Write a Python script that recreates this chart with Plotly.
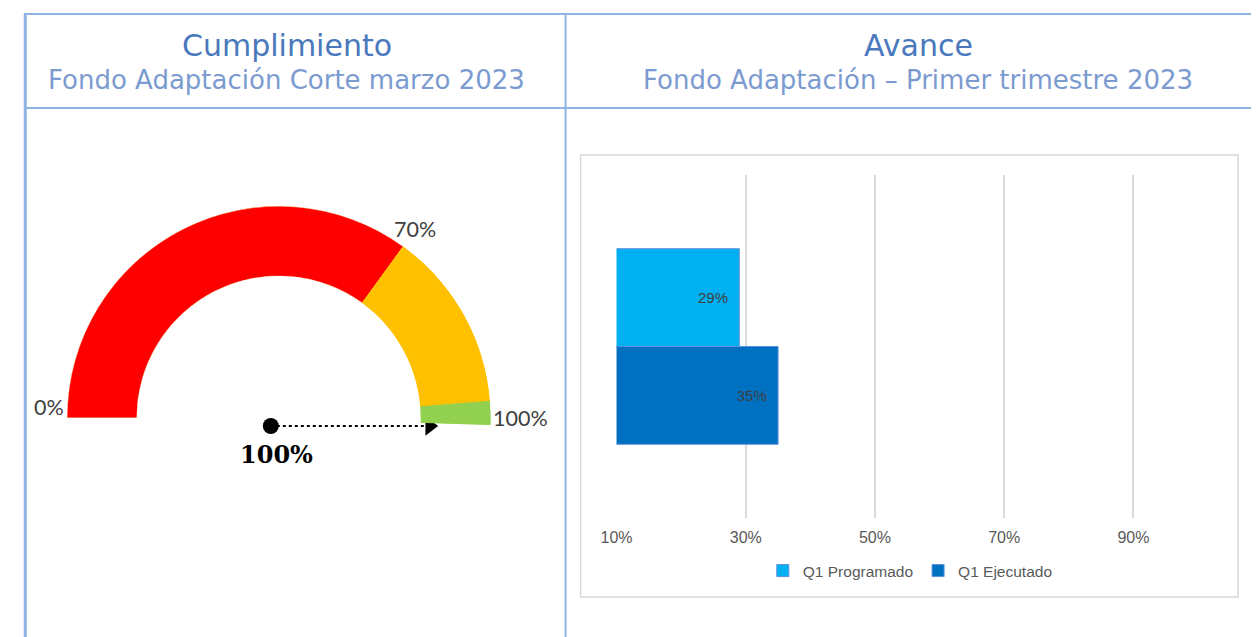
import math
import plotly.graph_objects as go

# measured placement of the figure inside the photographed page
X0, XS = 23.0, 0.988   # photographed x = X0 + XS * figure x
Y0 = 8.0                # photographed y = Y0 + figure y
PAGE_W, PAGE_H = 1259, 637
W = int(round((PAGE_W - X0) / XS))
H = int(PAGE_H - Y0)

# ---------------- data ----------------
# Gauge (Cumplimiento)
band_names = ["Bajo", "Medio", "Alto"]
band_start = [0, 70, 97.5]
band_end = [70, 97.5, 101]
band_colors = ["#FF0000", "#FFC000", "#92D050"]
band_edge = ["#F4B183", "#FFC000", "#92D050"]
gauge_tick_values = [0, 70, 100]
gauge_tick_labels = ["0%", "70%", "100%"]
gauge_value = 100  # needle value, percent

# Bars (Avance)
bar_category = ["Q1"]
series_names = ["Q1 Programado", "Q1 Ejecutado"]
series_values = [0.29, 0.35]
series_colors = ["#00B0F0", "#0070C0"]
x_tickvals = [0.1, 0.3, 0.5, 0.7, 0.9]
x_ticktext = ["10%", "30%", "50%", "70%", "90%"]

left_title = "Cumplimiento"
left_sub = "Fondo Adaptación Corte marzo 2023"
right_title = "Avance"
right_sub = "Fondo Adaptación – Primer trimestre 2023"

# ---------------- helpers ----------------
def fx(px):
    return min(max(((px - X0) / XS) / W, 0.0), 1.0)

def fy(py):
    return 1 - (py - Y0) / H

DEG_PER_PCT = 1.8
cx, cy, R = 278, 418, 212
hole = 0.67
sector = [-3, 180]
below = R * math.sin(math.radians(-sector[0]))

fig = go.Figure()

# gauge bands
fig.add_trace(go.Barpolar(
    r=[1] * len(band_names),
    base=[0] * len(band_names),
    theta=[(s + e) / 2 * DEG_PER_PCT for s, e in zip(band_start, band_end)],
    width=[(e - s) * DEG_PER_PCT for s, e in zip(band_start, band_end)],
    marker=dict(color=band_colors, line=dict(color=band_edge, width=1)),
    name="gauge", showlegend=False, hoverinfo="skip",
    subplot="polar",
))

fig.update_layout(polar=dict(
    domain=dict(x=[fx(cx - R), fx(cx + R)], y=[fy(cy + below), fy(cy - R)]),
    sector=sector,
    hole=hole,
    bgcolor="rgba(0,0,0,0)",
    radialaxis=dict(visible=False, range=[0, 1]),
    angularaxis=dict(visible=False, rotation=180, direction="clockwise"),
))

# needle on an overlay cartesian axis (units of gauge radius)
ang = math.radians(180 - gauge_value * DEG_PER_PCT)
sx, sy = -8 / R, -8 / R
L = 0.75
ex, ey = sx + L * math.cos(ang), sy + L * math.sin(ang)
fig.add_trace(go.Scatter(
    x=[sx, ex], y=[sy, ey], mode="lines",
    line=dict(color="black", width=2, dash="dot"),
    xaxis="x2", yaxis="y2", showlegend=False, hoverinfo="skip",
))
fig.add_trace(go.Scatter(
    x=[sx], y=[sy], mode="markers",
    marker=dict(color="black", size=16, symbol="circle"),
    xaxis="x2", yaxis="y2", showlegend=False, hoverinfo="skip",
))
fig.add_trace(go.Scatter(
    x=[ex], y=[ey], mode="markers",
    marker=dict(color="black", size=17, symbol="triangle-right"),
    xaxis="x2", yaxis="y2", showlegend=False, hoverinfo="skip",
))
y2_top, y2_bot = 206, 470
fig.update_layout(
    xaxis2=dict(domain=[fx(cx - R), fx(cx + R)], range=[-1, 1], visible=False, fixedrange=True),
    yaxis2=dict(domain=[fy(y2_bot), fy(y2_top)], range=[-(y2_bot - cy) / R, (cy - y2_top) / R],
                visible=False, fixedrange=True),
)

# bars
for name, val, col in zip(series_names, series_values, series_colors):
    fig.add_trace(go.Bar(
        y=bar_category, x=[val], orientation="h",
        name=name, marker=dict(color=col, line=dict(color="#5B8FE0", width=1)),
        texttemplate="%{x:.0%}\u00a0\u00a0", textposition="inside",
        insidetextanchor="end", constraintext="none", textangle=0,
        textfont=dict(family="Liberation Sans, Arial", size=15, color="#404040"),
        xaxis="x", yaxis="y", hoverinfo="skip",
    ))

fig.update_layout(
    barmode="group", bargap=0.43, bargroupgap=0,
    xaxis=dict(domain=[fx(616), fx(1198)], range=[0.1, 1.0],
               tickvals=x_tickvals, ticktext=x_ticktext,
               showgrid=True, gridcolor="#D9D9D9", gridwidth=1.5,
               zeroline=False, showline=False, ticks="",
               tickfont=dict(family="Liberation Sans, Arial", size=16, color="#595959"),
               ticklabelstandoff=8, fixedrange=True),
    yaxis=dict(domain=[fy(518), fy(175)], autorange="reversed",
               showticklabels=False, showgrid=False, zeroline=False, fixedrange=True),
    legend=dict(orientation="h", x=fx(910), xanchor="center", y=fy(571), yanchor="middle",
                font=dict(family="Liberation Sans, Arial", size=15.5, color="#595959"),
                itemwidth=30, bgcolor="rgba(0,0,0,0)"),
)

# ---------------- layout frame ----------------
border = "#8DB4E2"
shapes = [
    dict(type="line", xref="paper", yref="paper", x0=0, x1=1, y0=fy(14), y1=fy(14),
         line=dict(color=border, width=2)),
    dict(type="line", xref="paper", yref="paper", x0=0, x1=1, y0=fy(108), y1=fy(108),
         line=dict(color=border, width=2)),
    dict(type="line", xref="paper", yref="paper", x0=0.001, x1=0.001, y0=fy(14), y1=0,
         line=dict(color=border, width=3)),
    dict(type="line", xref="paper", yref="paper", x0=fx(565), x1=fx(565), y0=fy(14), y1=0,
         line=dict(color=border, width=2)),
    dict(type="rect", xref="paper", yref="paper", x0=fx(580), x1=fx(1238), y0=fy(597), y1=fy(155),
         line=dict(color="#D9D9D9", width=1.5), layer="below"),
]

title_font = dict(family="DejaVu Sans", size=30, color="#4A78BD")
sub_font = dict(family="DejaVu Sans", size=26, color="#7B9BD0")
gauge_font = dict(family="Lato, Liberation Sans", size=21.5, color="#404040")

annotations = [
    dict(text=left_title, x=fx(286), y=fy(45), font=title_font),
    dict(text=left_sub, x=fx(286), y=fy(80), font=sub_font),
    dict(text=right_title, x=fx(918), y=fy(45), font=title_font),
    dict(text=right_sub, x=fx(918), y=fy(80), font=sub_font),
    dict(text=gauge_tick_labels[0], x=fx(48), y=fy(407), font=gauge_font),
    dict(text=gauge_tick_labels[1], x=fx(414), y=fy(229), font=gauge_font),
    dict(text=gauge_tick_labels[2], x=fx(520), y=fy(418), font=gauge_font),
    dict(text="<b>%d%%</b>" % gauge_value, x=fx(276), y=fy(455),
         font=dict(family="DejaVu Serif, Liberation Serif", size=24, color="black")),
]
for a in annotations:
    a.update(xref="paper", yref="paper", showarrow=False, xanchor="center", yanchor="middle")

fig.update_layout(
    width=W, height=H, margin=dict(l=0, r=0, t=0, b=0),
    paper_bgcolor="white", plot_bgcolor="rgba(0,0,0,0)",
    shapes=shapes, annotations=annotations,
)

fig.write_html("out.html")
